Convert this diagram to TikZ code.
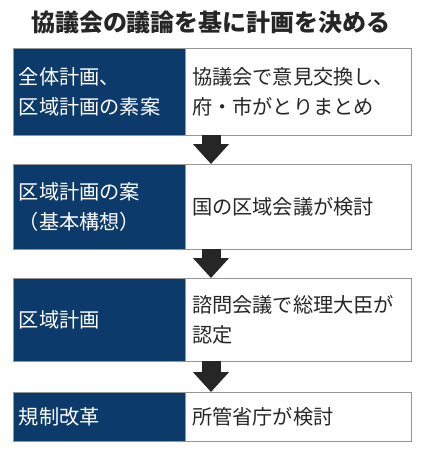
\documentclass[tikz,border=0pt]{standalone}
\usepackage{fontspec}
\newfontfamily\jpfont{Noto Sans CJK JP}
\usetikzlibrary{positioning,arrows.meta,calc}
\definecolor{navy}{RGB}{12,58,107}
\definecolor{rim}{RGB}{150,150,150}

\begin{document}
\begin{tikzpicture}[x=1pt,y=-1pt,
  hd/.style={draw=rim,fill=navy,text=white,anchor=north west,outer sep=0pt,text width=160pt,inner xsep=6pt,align=left,font=\jpfont\fontsize{20.2}{30}\selectfont},
  txt/.style={draw=rim,fill=white,anchor=north west,outer sep=0pt,text width=212pt,inner xsep=7pt,align=left,font=\jpfont\fontsize{20.2}{30}\selectfont,text=black!85},
  ttl/.style={font=\jpfont\bfseries\fontsize{24}{28}\selectfont,text=black!85},
  dn/.style={draw=black!85,line width=19pt,-{Triangle[width=35pt,length=20pt]}}]
\useasboundingbox (0,0) rectangle (423,453);
% title
\node[ttl] (head) at (211,22) {協議会の議論を基に計画を決める};
% the four stages
\node[hd,minimum height=87pt] (l1) at (13,48) {全体計画、\\区域計画の素案};
\node[txt,minimum height=87pt] (r1) at (l1.north east) {協議会で意見交換し、\\府・市がとりまとめ};
\node[hd,minimum height=85pt] (l2) at (13,164) {区域計画の案\\（基本構想）};
\node[txt,minimum height=85pt] (r2) at (l2.north east) {国の区域会議が検討};
\node[hd,minimum height=83pt] (l3) at (13,278) {区域計画};
\node[txt,minimum height=83pt] (r3) at (l3.north east) {諮問会議で総理大臣が\\認定};
\node[hd,minimum height=49pt] (l4) at (13,392) {規制改革};
\node[txt,minimum height=49pt] (r4) at (l4.north east) {所管省庁が検討};
% arrows between stages
\foreach \i/\j in {1/2,2/3,3/4}
  \draw[dn] ($(r\i.south west)+(26,0)$) -- ($(r\j.north west)+(26,0)$);
\end{tikzpicture}
\end{document}
